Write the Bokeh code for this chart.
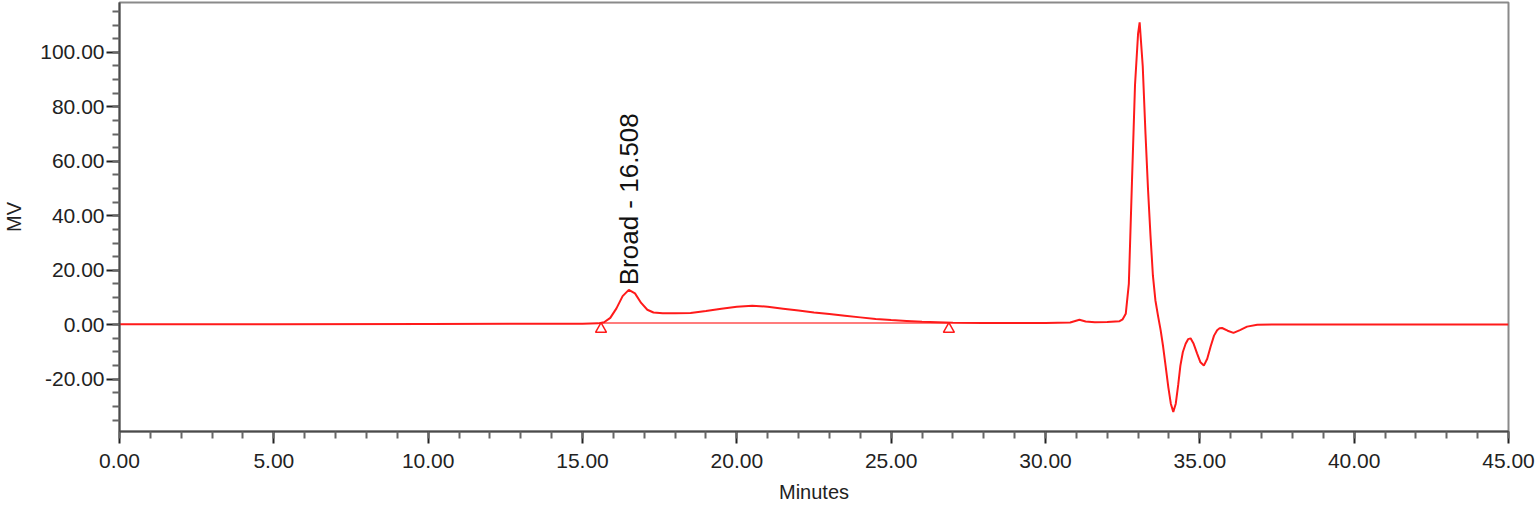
from bokeh.plotting import figure
from bokeh.models import FixedTicker, ColumnDataSource, Range1d
from bokeh.core.properties import value
from bokeh.embed import file_html
from bokeh.resources import INLINE
import math

# ---- data ----
time_min = [0, 5, 10, 15, 15.5, 15.7, 15.9, 16.1, 16.3, 16.5, 16.7, 16.9, 17.1, 17.3, 17.6,
            18.0, 18.5, 19.0, 19.5, 20.0, 20.5, 21.0, 21.5, 22.0, 22.5, 23.0, 23.5, 24.0,
            24.5, 25.0, 25.5, 26.0, 26.5, 27.0, 28.0, 29.0, 30.0, 30.8, 31.1, 31.3, 31.6,
            32.0, 32.4, 32.5, 32.6, 32.7, 32.8, 32.9, 33.0, 33.05, 33.15, 33.24, 33.32,
            33.40, 33.48, 33.56, 33.65, 33.73, 33.81, 33.89, 33.98, 34.06, 34.14, 34.22,
            34.30, 34.37, 34.45, 34.54, 34.62, 34.70, 34.80, 34.91, 35.02, 35.13, 35.24,
            35.35, 35.46, 35.56, 35.64, 35.72, 35.90, 36.09, 36.30, 36.53, 36.86, 37.5,
            40.0, 45.0]
mv = [0.2, 0.2, 0.3, 0.4, 0.5, 0.9, 2.5, 6.0, 10.5, 12.8, 11.5, 8.0, 5.5, 4.5, 4.2,
      4.2, 4.3, 5.0, 5.9, 6.6, 7.0, 6.6, 5.9, 5.2, 4.5, 3.9, 3.3, 2.7,
      2.1, 1.7, 1.4, 1.1, 0.9, 0.7, 0.6, 0.6, 0.6, 0.8, 1.8, 1.2, 0.9,
      1.0, 1.3, 2.0, 4.0, 15.0, 52.0, 88.0, 107.0, 111.0, 95.0, 70.0, 50.0,
      33.0, 18.0, 9.0, 3.0, -2.0, -8.0, -15.0, -23.0, -29.0, -32.0, -29.0,
      -22.0, -15.0, -10.0, -7.0, -5.3, -5.0, -7.0, -10.5, -13.8, -15.0, -12.5,
      -8.0, -4.0, -2.0, -1.3, -1.2, -2.2, -3.0, -2.0, -0.7, 0.0, 0.1,
      0.1, 0.1]

baseline_t = [15.60, 26.87]
baseline_mv = [0.6, 0.6]
peak_label_t = [16.508]
peak_label_mv = [14.5]
peak_label_text = ["Broad - 16.508"]

x_ticks = [0, 5, 10, 15, 20, 25, 30, 35, 40, 45]
x_tick_labels = ["0.00", "5.00", "10.00", "15.00", "20.00", "25.00", "30.00", "35.00", "40.00", "45.00"]
x_minor = [i for i in range(0, 46)]
y_ticks = [-20, 0, 20, 40, 60, 80, 100]
y_tick_labels = ["-20.00", "0.00", "20.00", "40.00", "60.00", "80.00", "100.00"]
y_minor = [v for v in range(-35, 120, 5)]

RED = "#ff1a1a"
FONT = "Liberation Sans"

p = figure(width=1536, height=505, output_backend="svg", toolbar_location=None,
           x_range=Range1d(0, 45), y_range=Range1d(-39.2, 118.3),
           min_border_left=119, min_border_right=28, min_border_top=2, min_border_bottom=73)
p.background_fill_color = "white"
p.border_fill_color = "white"
p.xgrid.visible = False
p.ygrid.visible = False
p.outline_line_color = "#8a8a8a"
p.outline_line_width = 2

# integration baseline and trace
p.line(baseline_t, baseline_mv, line_color="#ff5050", line_width=1.5)
p.line(time_min, mv, line_color=RED, line_width=2)
p.scatter([baseline_t[0], baseline_t[1]], [-1.6, -1.6], marker="triangle", size=11,
          fill_color="white", line_color=RED, line_width=1.5)

src = ColumnDataSource(dict(x=peak_label_t, y=peak_label_mv, t=peak_label_text))
p.text(x="x", y="y", text="t", source=src, angle=math.pi / 2, text_align="left",
       text_baseline="middle", text_font=value(FONT), text_font_size="26px", text_color="#111111")

for ax, ticks, labels, minor in ((p.xaxis[0], x_ticks, x_tick_labels, x_minor),
                                 (p.yaxis[0], y_ticks, y_tick_labels, y_minor)):
    ax.ticker = FixedTicker(ticks=ticks, minor_ticks=minor)
    ax.major_label_overrides = {t: l for t, l in zip(ticks, labels)}
    ax.axis_line_color = "#4a4a4a"
    ax.axis_line_width = 2
    ax.major_tick_line_color = "#222222"
    ax.major_tick_line_width = 2
    ax.minor_tick_line_color = "#666666"
    ax.minor_tick_line_width = 2
    ax.major_tick_in = 0
    ax.minor_tick_in = 0
    ax.major_label_text_font = FONT
    ax.major_label_text_font_size = "21px"
    ax.major_label_text_color = "#222222"
    ax.axis_label_text_font = FONT
    ax.axis_label_text_font_size = "20px"
    ax.axis_label_text_font_style = "normal"
    ax.axis_label_text_color = "#222222"

p.xaxis.axis_label = "Minutes"
p.yaxis.axis_label = "MV"
p.xaxis.major_tick_out = 12
p.xaxis.minor_tick_out = 7
p.yaxis.major_tick_out = 13
p.yaxis.minor_tick_out = 7
p.xaxis.major_label_standoff = 10
p.yaxis.major_label_standoff = 2
p.xaxis.axis_label_standoff = 10
p.yaxis.axis_label_standoff = 12

open("out.html", "w").write(file_html(p, INLINE))
